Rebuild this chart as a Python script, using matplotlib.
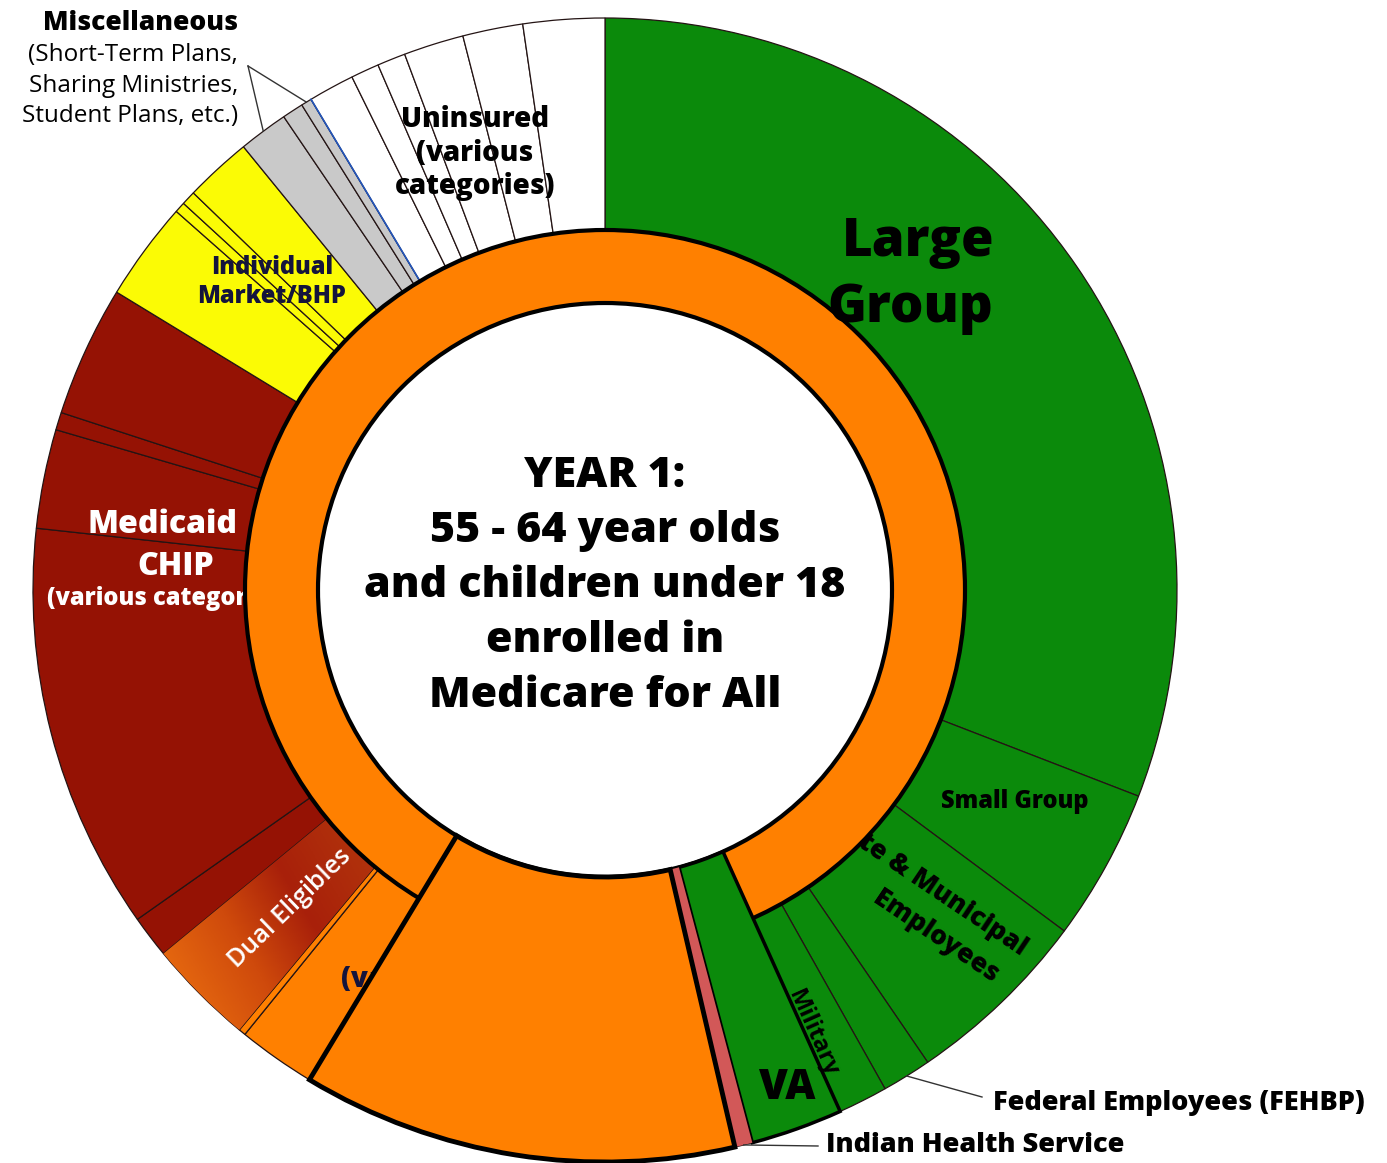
import numpy as np
import matplotlib.pyplot as plt
from matplotlib.patches import Circle
from matplotlib.colors import LinearSegmentedColormap

plt.rcParams['font.family'] = ['Open Sans', 'DejaVu Sans']

# share of the population (percent), clockwise from 12 o'clock
segments = ['Large Group', 'Small Group', 'State & Municipal Employees', 'FEHBP', 'Military',
            'VA', 'Indian Health Service', 'Medicare (55-64, children)', 'Medicare (various)', 'Medicare (other)',
            'Dual Eligibles', 'Medicaid 1', 'Medicaid 2', 'Medicaid 3', 'Medicaid 4', 'Medicaid 5',
            'Individual 1', 'Individual 2', 'Individual 3', 'Individual 4',
            'Misc 1', 'Misc 2', 'Misc 3',
            'Uninsured 1', 'Uninsured 2', 'Uninsured 3', 'Uninsured 4', 'Uninsured 5', 'Uninsured 6']
shares = [30.9, 4.3, 5.3, 1.4, 1.4,
          2.6, 0.5, 12.3, 2.2, 0.2,
          3.0, 1.2, 11.5, 2.8, 0.5, 3.7,
          2.8, 0.3, 0.4, 1.9,
          1.4, 0.6, 0.3,
          1.3, 0.8, 0.8, 1.7, 1.7, 2.3]
groups = ['employer', 'employer', 'employer', 'employer', 'employer',
          'employer', 'ihs', 'medicare', 'medicare', 'medicare',
          'dual', 'medicaid', 'medicaid', 'medicaid', 'medicaid', 'medicaid',
          'individual', 'individual', 'individual', 'individual',
          'misc', 'misc', 'misc',
          'uninsured', 'uninsured', 'uninsured', 'uninsured', 'uninsured', 'uninsured']
# segments already moved into Medicare for All in year 1 (reach the centre)
full_depth = ['VA', 'Indian Health Service', 'Medicare (55-64, children)']

center_lines = ['YEAR 1:', '55 - 64 year olds', 'and children under 18', 'enrolled in', 'Medicare for All']

group_colors = {'employer': '#0b8a0b', 'ihs': '#d25858', 'medicare': '#ff8000',
                'dual': '#c2400e', 'medicaid': '#951204', 'individual': '#fbfb05',
                'misc': '#c9c9c9', 'uninsured': '#ffffff'}

W, H = 1387, 1163
C = (605, H - 590)
R_OUT, R_RING, R_IN = 572, 360, 287
HEAVY = 'heavy'


def xy(x, y):
    return x, H - y


fig = plt.figure(figsize=(W / 100, H / 100), dpi=100)
ax = fig.add_axes([0, 0, 1, 1])

cols = [group_colors[g] for g in groups]

# outer ring
outer, _ = ax.pie(shares, radius=R_OUT, center=C, startangle=90, counterclock=False,
                  colors=cols, wedgeprops=dict(width=R_OUT - R_RING, edgecolor='#241414', linewidth=0.9))
for w in outer:
    w.set_zorder(1)

# gradient for the Dual Eligibles slice
i_dual = segments.index('Dual Eligibles')
wd = outer[i_dual]
t1, t2 = np.radians(wd.theta1), np.radians(wd.theta2)
p0 = np.array([C[0] + R_OUT * np.cos(t1), C[1] + R_OUT * np.sin(t1)])
tm = (t1 + t2) / 2
p1 = np.array([C[0] + R_RING * np.cos(tm), C[1] + R_RING * np.sin(tm)])
gx = np.linspace(C[0] - R_OUT, C[0], 300)
gy = np.linspace(C[1] - R_OUT, C[1], 300)
GX, GY = np.meshgrid(gx, gy)
d = p1 - p0
T = ((GX - p0[0]) * d[0] + (GY - p0[1]) * d[1]) / (d @ d)
cmap = LinearSegmentedColormap.from_list('dual', ['#e4660f', '#cf4a0c', '#a8200a', '#b0300c'])
im = ax.imshow(np.clip(T, 0, 1), extent=[gx[0], gx[-1], gy[0], gy[-1]], origin='lower',
               cmap=cmap, zorder=1.1, aspect='auto')
im.set_clip_path(wd)

# blue separator between misc and uninsured
i_unins = segments.index('Uninsured 1')
tb = np.radians(outer[i_unins].theta2)
ax.plot([C[0] + R_RING * np.cos(tb), C[0] + R_OUT * np.cos(tb)],
        [C[1] + R_RING * np.sin(tb), C[1] + R_OUT * np.sin(tb)], color='#2255bb', lw=1.2, zorder=1.3)

# labels hidden in part behind the rings
ax.text(*xy(88, 533), 'Medicaid', color='white', fontsize=23, fontweight=HEAVY,
        ha='left', va='baseline', zorder=1.5)
ax.text(*xy(176, 575), 'CHIP', color='white', fontsize=23, fontweight=HEAVY,
        ha='center', va='baseline', zorder=1.5)
ax.text(*xy(47, 605), '(various categories)', color='white', fontsize=17, fontweight=HEAVY,
        ha='left', va='baseline', zorder=1.5)
ax.text(*xy(1024, 950), 'State & Municipal', color='black', fontsize=19, fontweight=HEAVY,
        ha='right', va='center', rotation=-34, rotation_mode='anchor', zorder=1.5)
ax.text(*xy(936, 937), 'Employees', color='black', fontsize=19, fontweight=HEAVY,
        ha='center', va='center', rotation=-34, rotation_mode='anchor', zorder=1.5)
ax.text(*xy(341, 987), '(various categories)', color='#14143c', fontsize=20, fontweight=HEAVY,
        ha='left', va='baseline', zorder=1.5)

# orange Medicare ring
ax.add_patch(Circle(C, R_RING, facecolor='#ff8000', edgecolor='none', zorder=2))
ax.add_patch(Circle(C, R_IN, facecolor='white', edgecolor='none', zorder=2.1))
ax.add_patch(Circle(C, R_RING, facecolor='none', edgecolor='black', lw=3, zorder=3))
ax.add_patch(Circle(C, R_IN, facecolor='none', edgecolor='black', lw=3, zorder=3))

# slices already in Medicare for All reach the centre
inner, _ = ax.pie(shares, radius=R_OUT, center=C, startangle=90, counterclock=False,
                  colors=cols, wedgeprops=dict(width=R_OUT - R_IN, edgecolor='black', linewidth=2.5))
for name, w in zip(segments, inner):
    w.set_zorder(4)
    if name not in full_depth:
        w.set_visible(False)
    elif name == 'Medicare (55-64, children)':
        w.set_linewidth(3.5)
        w.set_zorder(4.2)
    elif name == 'Indian Health Service':
        w.set_linewidth(0)
        w.set_zorder(4.1)

# labels
ax.text(*xy(918, 256), 'Large', fontsize=38, fontweight=HEAVY, ha='center', va='baseline', zorder=5)
ax.text(*xy(910, 322), 'Group', fontsize=38, fontweight=HEAVY, ha='center', va='baseline', zorder=5)
ax.text(*xy(1015, 801), 'Small Group', fontsize=17, fontweight=HEAVY, ha='center', va='center', zorder=5)
ax.text(*xy(813, 1034), 'Military', fontsize=17, fontweight='bold', ha='center', va='center',
        rotation=-66, rotation_mode='anchor', zorder=5)
ax.text(*xy(787, 1088), 'VA', fontsize=30, fontweight=HEAVY, ha='center', va='center', zorder=5)
for txt, yb in zip(['Uninsured', '(various', 'categories)'], [127, 161, 194]):
    ax.text(*xy(475, yb), txt, fontsize=20, fontweight=HEAVY, ha='center', va='baseline', zorder=5)
for txt, yb in zip(['Individual', 'Market/BHP'], [274, 303]):
    ax.text(*xy(272, yb), txt, color='#14143c', fontsize=17, fontweight=HEAVY,
            ha='center', va='baseline', zorder=5)
ax.text(*xy(290, 908), 'Dual Eligibles', color='white', fontsize=18, fontweight='semibold',
        ha='center', va='center', rotation=44, rotation_mode='anchor', zorder=5)

for k, txt in enumerate(center_lines):
    ax.text(*xy(605, 487 + 55 * k), txt, fontsize=31, fontweight=HEAVY, ha='center',
            va='baseline', zorder=5)


# labels outside with leader lines
def rim(name, r=R_OUT):
    w = outer[segments.index(name)]
    t = np.radians((w.theta1 + w.theta2) / 2)
    return C[0] + r * np.cos(t), C[1] + r * np.sin(t)


ax.text(*xy(238, 30), 'Miscellaneous', fontsize=19, fontweight=HEAVY, ha='right', va='baseline', zorder=5)
for txt, yb in zip(['(Short-Term Plans,', 'Sharing Ministries,', 'Student Plans, etc.)'], [61, 92, 122]):
    ax.text(*xy(238, yb), txt, fontsize=17.5, ha='right', va='baseline', zorder=5)
for name in ['Misc 1', 'Misc 3']:
    x1, y1 = rim(name)
    ax.plot([248, x1], [H - 66, y1], color='#333333', lw=1, zorder=5)

ax.text(*xy(993, 1110), 'Federal Employees (FEHBP)', fontsize=19.5, fontweight=HEAVY, ha='left',
        va='baseline', zorder=5)
x1, y1 = rim('FEHBP')
ax.plot([x1, 982], [y1, H - 1097], color='#333333', lw=1, zorder=5)

ax.text(*xy(826, 1152), 'Indian Health Service', fontsize=19.5, fontweight=HEAVY, ha='left',
        va='baseline', zorder=5)
x1, y1 = rim('Indian Health Service')
ax.plot([x1, 818], [y1, H - 1146], color='#333333', lw=1, zorder=5)

ax.set_xlim(0, W)
ax.set_ylim(0, H)
ax.set_aspect('equal', adjustable='box')
ax.axis('off')

fig.savefig('out.png', dpi=100, facecolor='white')
